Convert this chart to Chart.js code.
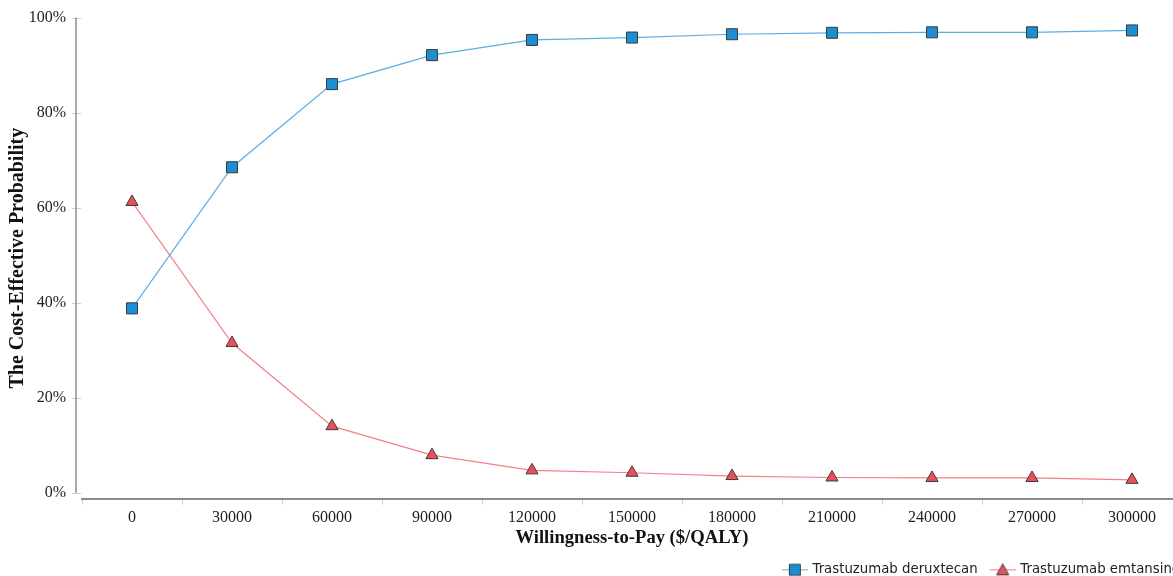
<!DOCTYPE html>
<html>
<head>
<meta charset="utf-8">
<script src="https://cdn.jsdelivr.net/npm/chart.js@4.4.1/dist/chart.umd.min.js"></script>
<style>
html,body{margin:0;padding:0;background:#fff;overflow:hidden;width:1173px;height:576px;}
#wrap{position:absolute;left:0;top:0;width:1200px;height:586px;}
</style>
</head>
<body>
<div id="wrap"><canvas id="c" width="1200" height="586"></canvas></div>
<script>
const categories = ['0','30000','60000','90000','120000','150000','180000','210000','240000','270000','300000'];
const deruxtecan = [38.8, 68.5, 86.0, 92.1, 95.3, 95.8, 96.5, 96.8, 96.9, 96.9, 97.3];
const emtansine  = [61.2, 31.5, 14.0, 7.9, 4.7, 4.2, 3.5, 3.2, 3.1, 3.1, 2.7];
const yTicks = [0, 20, 40, 60, 80, 100];
const seriesNames = ['Trastuzumab deruxtecan', 'Trastuzumab emtansine'];

const blueLine = '#5aaee3', blueFill = '#1a8fd3';
const redLine = '#f57f87', redFill = '#ec4f5c';
const edge = '#3a3a3a';

function legendIcon(style, lineColor, fill) {
  const cv = document.createElement('canvas');
  cv.width = 38; cv.height = 16;
  const g = cv.getContext('2d');
  g.strokeStyle = lineColor; g.lineWidth = 1;
  g.beginPath(); g.moveTo(12, 8.5); g.lineTo(38, 8.5); g.stroke();
  g.fillStyle = fill; g.strokeStyle = edge; g.lineWidth = 1;
  g.beginPath();
  if (style === 'rect') {
    g.rect(19.5, 3, 11, 11);
  } else {
    g.moveTo(25, 2.5); g.lineTo(31, 13.5); g.lineTo(19, 13.5); g.closePath();
  }
  g.fill(); g.stroke();
  return cv;
}
const icons = [legendIcon('rect', blueLine, blueFill), legendIcon('triangle', redLine, redFill)];

const yAxisLine = {
  id: 'yAxisLine',
  afterDraw(chart) {
    const ctx = chart.ctx, y = chart.scales.y, a = chart.chartArea;
    const x = a.left - 6;
    ctx.save();
    ctx.strokeStyle = '#cfcfcf'; ctx.lineWidth = 1;
    yTicks.forEach(v => {
      const py = Math.round(y.getPixelForValue(v)) + 0.5;
      ctx.beginPath(); ctx.moveTo(x - 4, py); ctx.lineTo(x + 5, py); ctx.stroke();
    });
    ctx.strokeStyle = '#8c8c8c'; ctx.lineWidth = 1.5;
    ctx.beginPath(); ctx.moveTo(x, a.top); ctx.lineTo(x, y.getPixelForValue(0)); ctx.stroke();
    ctx.restore();
  }
};

new Chart(document.getElementById('c'), {
  type: 'line',
  data: {
    labels: categories,
    datasets: [
      { label: seriesNames[0], data: deruxtecan, borderColor: blueLine, backgroundColor: blueFill,
        pointBorderColor: edge, pointBackgroundColor: blueFill, pointStyle: 'rect', pointRadius: 7.8,
        pointBorderWidth: 1, borderWidth: 1.2, tension: 0 },
      { label: seriesNames[1], data: emtansine, borderColor: redLine, backgroundColor: redFill,
        pointBorderColor: edge, pointBackgroundColor: redFill, pointStyle: 'triangle', pointRadius: 7,
        pointBorderWidth: 1, borderWidth: 1.2, tension: 0 }
    ]
  },
  options: {
    responsive: false,
    animation: false,
    layout: { padding: { top: 11, right: 18, left: 0, bottom: 0 } },
    plugins: {
      tooltip: { enabled: false },
      legend: {
        position: 'bottom', align: 'end',
        labels: {
          usePointStyle: true, pointStyleWidth: 34, padding: 2,
          font: { family: 'DejaVu Sans', size: 13.3 }, color: '#222',
          generateLabels(chart) {
            return chart.data.datasets.map((d, i) => ({
              text: d.label, pointStyle: icons[i], datasetIndex: i,
              fillStyle: 'transparent', strokeStyle: 'transparent', lineWidth: 0, fontColor: '#222'
            }));
          }
        }
      }
    },
    scales: {
      x: {
        type: 'category', offset: true,
        border: { display: true, color: '#8c8c8c', width: 2 },
        grid: { display: true, drawOnChartArea: false, drawTicks: true, tickLength: 6, color: '#d0d0d0', offset: true },
        ticks: { font: { family: 'Liberation Serif', size: 16 }, color: '#222', padding: 3, maxRotation: 0, autoSkip: false },
        title: { display: true, text: 'Willingness-to-Pay ($/QALY)', font: { family: 'Liberation Serif', size: 18.6, weight: 'bold' }, color: '#111', padding: { top: 0, bottom: 11 } },
        afterFit(s) { s.height = 62; }
      },
      y: {
        min: -1.263, max: 100,
        border: { display: false },
        grid: { display: false },
        afterBuildTicks(s) { s.ticks = yTicks.map(v => ({ value: v })); },
        ticks: { font: { family: 'Liberation Serif', size: 16 }, color: '#222', padding: 8, callback: v => v + '%' },
        title: { display: true, text: 'The Cost-Effective Probability', font: { family: 'Liberation Serif', size: 20, weight: 'bold' }, color: '#111', padding: { top: 6, bottom: 0 } },
        afterFit(s) { s.width = 82; }
      }
    }
  },
  plugins: [yAxisLine]
});
</script>
</body>
</html>
